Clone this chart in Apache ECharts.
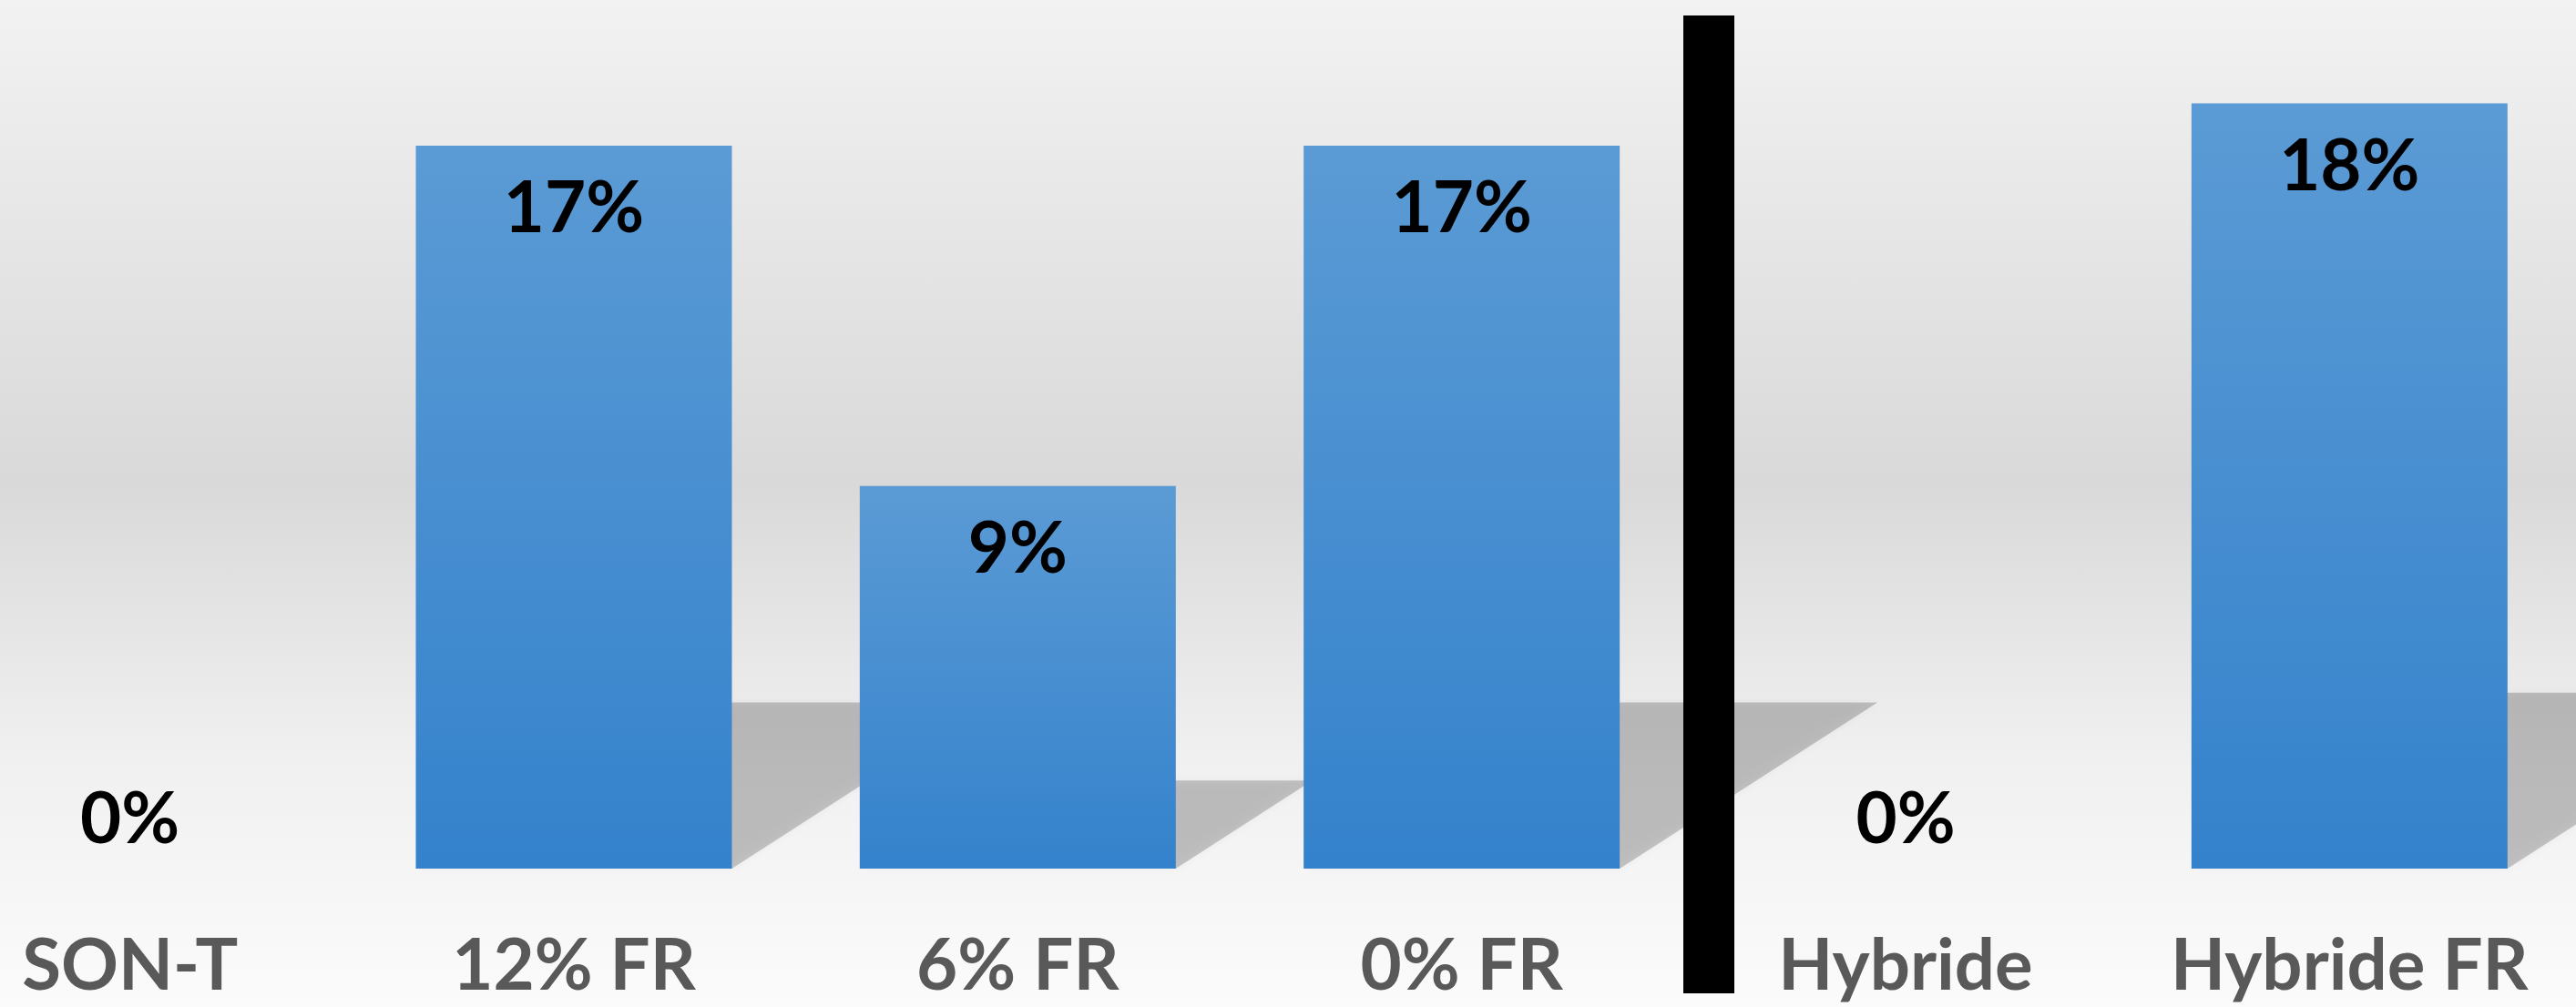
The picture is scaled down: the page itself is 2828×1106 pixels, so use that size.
<!DOCTYPE html>
<html>
<head>
<meta charset="utf-8">
<script src="https://cdn.jsdelivr.net/npm/echarts@6/dist/echarts.min.js"></script>
<style>
html, body { margin: 0; padding: 0; }
#main {
	width: 2828px;
	height: 1106px;
	background: linear-gradient(to bottom, #f2f2f2 0%, #d9d9d9 48%, #f0f0f0 75%, #fbfbfb 100%);
}
</style>
</head>
<body>
<div id="main"></div>
<script>
var categories = ['SON-T', '12% FR', '6% FR', '0% FR', 'Hybride', 'Hybride FR'];
var values = [0, 17, 9, 17, 0, 18];

var myChart = echarts.init(document.getElementById('main'));

// zero bars get their label above the axis instead of inside
var barData = values.map(function (v) {
	if (v === 0) {
		return { value: v, label: { position: 'top', distance: 13 } };
	}
	return v;
});

var shadowData = values.map(function (v, i) {
	return [i, v];
});

var option = {
	backgroundColor: 'transparent',
	grid: {
		left: -101,
		right: 5,
		top: 20,
		bottom: 152,
		containLabel: false,
		outerBoundsMode: 'none'
	},
	xAxis: {
		type: 'category',
		data: categories,
		axisLine: { show: false },
		axisTick: { show: false },
		splitLine: { show: false },
		axisLabel: {
			interval: 0,
			hideOverlap: false,
			margin: 68,
			color: '#595959',
			fontFamily: 'Lato',
			fontWeight: 'bold',
			fontSize: 78,
			lineHeight: 80
		}
	},
	yAxis: {
		type: 'value',
		min: 0,
		max: 20,
		show: false,
		splitLine: { show: false }
	},
	series: [
		{
			// floor shadow behind each bar
			type: 'custom',
			z: 1,
			silent: true,
			data: shadowData,
			renderItem: function (params, api) {
				var v = api.value(1);
				if (!v) {
					return;
				}
				var base = api.coord([api.value(0), 0]);
				var top = api.coord([api.value(0), v]);
				var bw = api.size([1, 0])[0] * 0.712;
				var h = (base[1] - top[1]) * 0.23;
				var s = h * 1.55;
				var left = base[0] - bw / 2;
				var right = base[0] + bw / 2;
				return {
					type: 'polygon',
					shape: {
						points: [
							[left, base[1]],
							[right, base[1]],
							[right + s, base[1] - h],
							[left + s, base[1] - h]
						]
					},
					style: {
						fill: 'rgba(0,0,0,0.2)',
						shadowBlur: 10,
						shadowColor: 'rgba(0,0,0,0.2)'
					}
				};
			}
		},
		{
			type: 'bar',
			z: 3,
			barWidth: '71.2%',
			data: barData,
			itemStyle: {
				color: new echarts.graphic.LinearGradient(0, 0, 0, 1, [
					{ offset: 0, color: '#5b9bd5' },
					{ offset: 1, color: '#3482cc' }
				])
			},
			label: {
				show: true,
				position: 'insideTop',
				distance: 30,
				formatter: '{c}%',
				color: '#000',
				fontFamily: 'Lato',
				fontWeight: 'bold',
				fontSize: 78,
				lineHeight: 80
			}
		}
	],
	graphic: [
		{
			type: 'rect',
			z: 10,
			shape: { x: 1848, y: 17, width: 56, height: 1074 },
			style: { fill: '#000' }
		}
	]
};

myChart.setOption(option);
</script>
</body>
</html>
